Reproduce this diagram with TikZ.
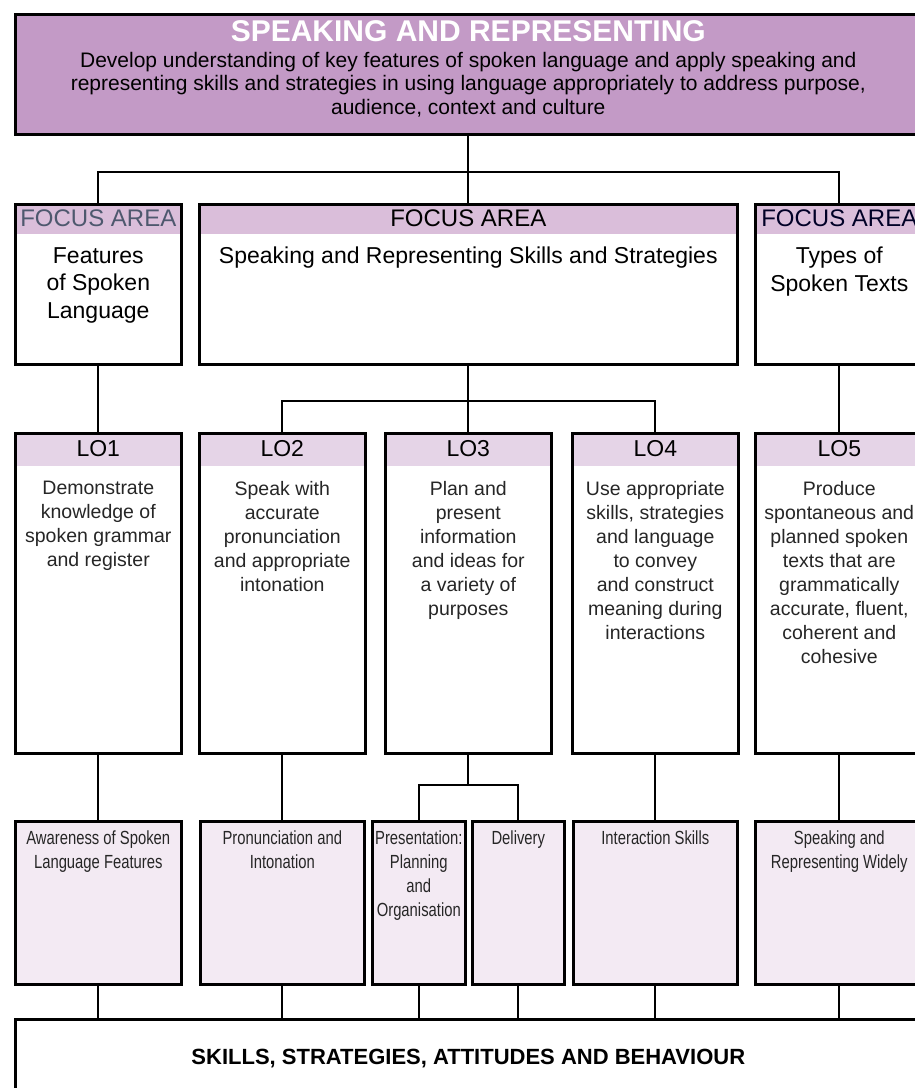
\documentclass[tikz,border=0pt]{standalone}
\usepackage{fontspec}
\setmainfont{Liberation Sans}
\newfontfamily\narrowfont{Liberation Sans}[FakeStretch=0.78]
\usetikzlibrary{positioning}
\definecolor{mauve}{RGB}{195,154,198}
\definecolor{fahead}{RGB}{218,190,218}
\definecolor{lohead}{RGB}{229,212,231}
\definecolor{skfill}{RGB}{243,234,243}
\definecolor{fagrey}{RGB}{78,88,110}
\begin{document}
\begin{tikzpicture}[x=1pt,y=-1pt,
    box/.style={draw, line width=2.6pt, anchor=north west, inner sep=0pt, fill=white},
    fabox/.style={box, minimum height=160pt, path picture={\fill[fahead] (path picture bounding box.north west) rectangle ([yshift=-30pt]path picture bounding box.north east);}},
    lobox/.style={box, minimum width=166pt, minimum height=320pt, path picture={\fill[lohead] (path picture bounding box.north west) rectangle ([yshift=-33pt]path picture bounding box.north east);}},
    skbox/.style={box, fill=skfill, minimum height=163pt},
    hdtext/.style={font=\fontsize{24}{28}\selectfont, inner sep=0pt},
    lohd/.style={font=\fontsize{23}{27}\selectfont, inner sep=0pt},
    fatext/.style={font=\fontsize{23}{27.5}\selectfont, align=center, inner sep=0pt},
    lotext/.style={font=\fontsize{19.5}{24}\selectfont, align=center, inner sep=0pt, text=black!85},
    sktext/.style={font=\narrowfont\fontsize{19}{24}\selectfont, align=center, inner sep=0pt, text=black!85},
    link/.style={line width=2.2pt}]
  \useasboundingbox (0,0) rectangle (914,1088);

  \node[box, fill=mauve, minimum width=906pt, minimum height=120pt] (top) at (14,13) {};
  \node[font=\bfseries\fontsize{30}{34}\selectfont, text=white, inner sep=0pt, below=7pt of top.north] (ttl) {SPEAKING AND REPRESENTING};
  \node[font=\fontsize{21}{23.5}\selectfont, align=center, inner sep=0pt, below=39pt of top.north] (aim) {Develop understanding of key features of spoken language and apply speaking and\\ representing skills and strategies in using language appropriately to address purpose,\\ audience, context and culture};

  \node[fabox, minimum width=166pt] (fa1) at (14,203) {};
  \node[fabox, minimum width=538pt] (fa2) at (198,203) {};
  \node[fabox, minimum width=168pt] (fa3) at (754,203) {};
  \node[hdtext, text=fagrey] (fa1h) at ([yshift=-15pt]fa1.north) {FOCUS AREA};
  \node[hdtext] (fa2h) at ([yshift=-15pt]fa2.north) {FOCUS AREA};
  \node[hdtext, text=black!85!blue] (fa3h) at ([yshift=-15pt]fa3.north) {FOCUS AREA};
  \node[fatext, below=44pt of fa1.north] (fa1t) {Features\\ of Spoken\\ Language};
  \node[fatext, below=44pt of fa2.north] (fa2t) {Speaking and Representing Skills and Strategies};
  \node[fatext, below=44pt of fa3.north] (fa3t) {Types of\\ Spoken Texts};

  \node[lobox] (lo1) at (14,432) {};
  \node[lobox] (lo2) at (198,432) {};
  \node[lobox] (lo3) at (384,432) {};
  \node[lobox] (lo4) at (571,432) {};
  \node[lobox, minimum width=168pt] (lo5) at (754,432) {};
  \node[lohd] (lo1h) at ([yshift=-16.5pt]lo1.north) {LO1};
  \node[lohd] (lo2h) at ([yshift=-16.5pt]lo2.north) {LO2};
  \node[lohd] (lo3h) at ([yshift=-16.5pt]lo3.north) {LO3};
  \node[lohd] (lo4h) at ([yshift=-16.5pt]lo4.north) {LO4};
  \node[lohd] (lo5h) at ([yshift=-16.5pt]lo5.north) {LO5};
  \node[lotext, below=49pt of lo1.north] (lo1t) {Demonstrate\\ knowledge of\\ spoken grammar\\ and register};
  \node[lotext, below=49pt of lo2.north] (lo2t) {Speak with\\ accurate\\ pronunciation\\ and appropriate\\ intonation};
  \node[lotext, below=49pt of lo3.north] (lo3t) {Plan and\\ present\\ information\\ and ideas for\\ a variety of\\ purposes};
  \node[lotext, below=49pt of lo4.north] (lo4t) {Use appropriate\\ skills, strategies\\ and language\\ to convey\\ and construct\\ meaning during\\ interactions};
  \node[lotext, below=49pt of lo5.north] (lo5t) {Produce\\ spontaneous and\\ planned spoken\\ texts that are\\ grammatically\\ accurate, fluent,\\ coherent and\\ cohesive};

  \node[skbox, minimum width=166pt] (sk1) at (14,820) {};
  \node[skbox, minimum width=164pt] (sk2) at (199,820) {};
  \node[skbox, minimum width=93pt] (sk3) at (371,820) {};
  \node[skbox, minimum width=92pt] (sk4) at (471,820) {};
  \node[skbox, minimum width=164pt] (sk5) at (572,820) {};
  \node[skbox, minimum width=168pt] (sk6) at (754,820) {};
  \node[sktext, below=11pt of sk1.north] (sk1t) {Awareness of Spoken\\ Language Features};
  \node[sktext, below=11pt of sk2.north] (sk2t) {Pronunciation and\\ Intonation};
  \node[sktext, below=11pt of sk3.north] (sk3t) {Presentation:\\ Planning\\ and\\ Organisation};
  \node[sktext, below=11pt of sk4.north] (sk4t) {Delivery};
  \node[sktext, below=11pt of sk5.north] (sk5t) {Interaction Skills};
  \node[sktext, below=11pt of sk6.north] (sk6t) {Speaking and\\ Representing Widely};

  \node[box, minimum width=906pt, minimum height=100pt] (base) at (14,1018) {};
  \node[font=\bfseries\fontsize{22}{26}\selectfont, inner sep=0pt, below=31pt of base.north] (baset) {SKILLS, STRATEGIES, ATTITUDES AND BEHAVIOUR};

  \coordinate (j1) at ([yshift=-36pt]top.south);
  \coordinate (j2) at ([yshift=-35pt]fa2.south);
  \coordinate (j3) at ([yshift=-30pt]lo3.south);
  \draw[link] (top.south) -- (fa2.north);
  \draw[link] (fa1.north) |- (j1) -| (fa3.north);
  \draw[link] (fa1.south) -- (lo1.north);
  \draw[link] (fa2.south) -- (lo3.north);
  \draw[link] (lo2.north) |- (j2) -| (lo4.north);
  \draw[link] (fa3.south) -- (lo5.north);
  \draw[link] (lo1.south) -- (sk1.north);
  \draw[link] (lo2.south) -- (sk2.north);
  \draw[link] (lo3.south) -- (j3);
  \draw[link] (sk3.north) |- (j3) -| (sk4.north);
  \draw[link] (lo4.south) -- (sk5.north);
  \draw[link] (lo5.south) -- (sk6.north);
  \foreach \s in {sk1,sk2,sk3,sk4,sk5,sk6}
    \draw[link] (\s.south) -- (\s.south |- base.north);
\end{tikzpicture}
\end{document}
